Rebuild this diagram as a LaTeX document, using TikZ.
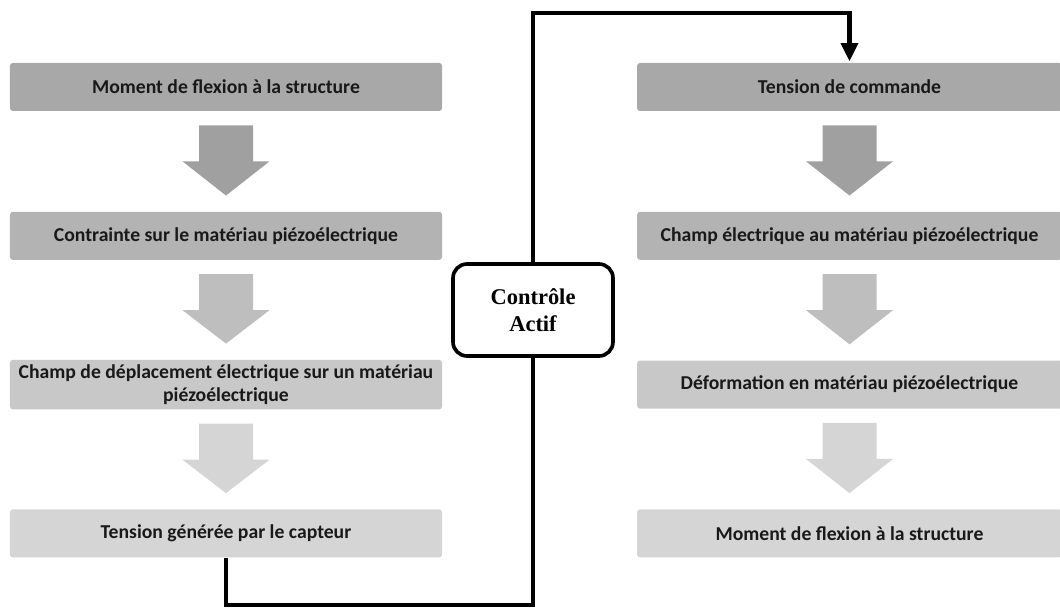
\documentclass[tikz,border=0pt]{standalone}
\usepackage{fontspec}
\setmainfont{Carlito}
\newfontfamily\ctrlfont{Liberation Serif}
\usetikzlibrary{positioning,calc,arrows.meta}
\definecolor{boiteA}{HTML}{A8A8A8}
\definecolor{boiteB}{HTML}{B3B3B3}
\definecolor{boiteC}{HTML}{C8C8C8}
\definecolor{boiteD}{HTML}{D5D5D5}
\definecolor{flecheA}{HTML}{A0A0A0}
\definecolor{flecheB}{HTML}{BEBEBE}
\definecolor{flecheC}{HTML}{D5D5D5}

\begin{document}
\begin{tikzpicture}[node distance=3.72cm,on grid,
  etape/.style={rectangle,rounded corners=2pt,minimum height=1.2cm,align=center,
    font=\bfseries\fontsize{14}{16.5}\selectfont,text=black!90},
  gauche/.style={etape,minimum width=10.8cm},
  droite/.style={etape,minimum width=10.62cm},
  controle/.style={draw,line width=2.6pt,rounded corners=10pt,minimum width=4cm,
    minimum height=2.3cm,align=center,font=\ctrlfont\bfseries\fontsize{16}{19.5}\selectfont},
  lien/.style={line width=3pt}]
\useasboundingbox (0,0) rectangle (26.5,15.2);
			\node[gauche,fill=boiteA] (g1) at (5.65,13.025) {Moment de flexion à la structure};
			\node[gauche,fill=boiteB] (g2) [below=of g1] {Contrainte sur le matériau piézoélectrique};
			\node[gauche,fill=boiteC] (g3) [below=of g2] {Champ de déplacement électrique sur un matériau\\piézoélectrique};
			\node[gauche,fill=boiteD] (g4) [below=of g3] {Tension générée par le capteur};
			\node[droite,fill=boiteA] (d1) at (21.2375,13.025) {Tension de commande};
			\node[droite,fill=boiteB] (d2) [below=of d1] {Champ électrique au matériau piézoélectrique};
			\node[droite,fill=boiteC] (d3) [below=of d2] {Déformation en matériau piézoélectrique};
			\node[droite,fill=boiteD] (d4) [below=of d3] {Moment de flexion à la structure};
			\node[controle] (ctrl) at (13.325,7.45) {Contrôle\\Actif};
			\coordinate (haut) at (0,14.875);
			\coordinate (bas) at (0,0.075);
			\foreach \a/\b/\c in {g1/g2/flecheA,g2/g3/flecheB,g3/g4/flecheC,d1/d2/flecheA,d2/d3/flecheB,d3/d4/flecheC}
			\fill[\c] ($(\a.south)+(-0.675,-0.35)$) -- ++(1.35,0) -- ++(0,-0.9) -- ++(0.415,0)
			-- ($(\b.north)+(0,0.4)$) -- ($(\a.south)+(-1.09,-1.25)$) -- ++(0.415,0) -- cycle;
			\draw[lien] (g4.south) -- (g4.south |- bas) -| (ctrl.south);
			\draw[lien,-{Triangle[width=12pt,length=13pt]},shorten >=1pt] (ctrl.north) -- (ctrl.north |- haut) -| (d1.north);
		\end{tikzpicture}
\end{document}
